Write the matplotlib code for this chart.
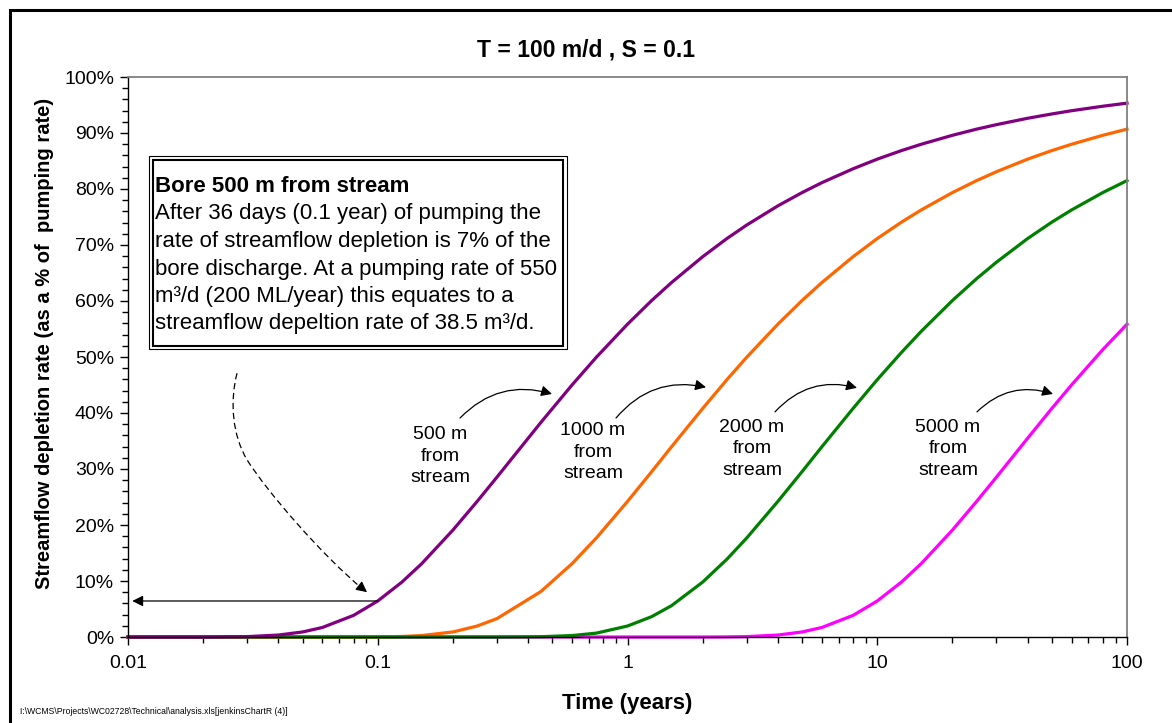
import numpy as np
import matplotlib
matplotlib.use("Agg")
import matplotlib.pyplot as plt
from matplotlib.patches import Rectangle, PathPatch
from matplotlib.path import Path
from matplotlib.ticker import FixedLocator, LogLocator, NullFormatter

plt.rcParams['font.family'] = ['Liberation Sans', 'DejaVu Sans']

# time (years)
time_years = [0.01, 0.02, 0.03, 0.04, 0.05, 0.06, 0.08, 0.1, 0.125, 0.15, 0.2, 0.25,
              0.3, 0.45, 0.6, 0.75, 1, 1.25, 1.5, 2, 2.5, 3, 4, 5, 6, 8, 10, 12.5,
              15, 20, 25, 30, 40, 50, 60, 80, 100]

# streamflow depletion rate (% of pumping rate)
dep_500 = [0.0, 0.0, 0.07, 0.35, 0.90, 1.70, 3.86, 6.43, 9.81, 13.10, 19.10, 24.21,
           28.54, 38.32, 45.02, 49.95, 55.86, 60.09, 63.29, 67.91, 71.15, 73.56, 76.99, 79.36,
           81.13, 83.61, 85.33, 86.86, 87.99, 89.59, 90.69, 91.49, 92.63, 93.40, 93.98, 94.78, 95.33]
dep_1000 = [0.0, 0.0, 0.0, 0.0, 0.0, 0.0, 0.0, 0.02, 0.09, 0.26, 0.90, 1.96,
            3.28, 8.12, 13.10, 17.67, 24.21, 29.53, 33.96, 40.81, 45.95, 49.95, 55.86, 60.09,
            63.29, 67.91, 71.15, 74.08, 76.26, 79.36, 81.50, 83.08, 85.33, 86.86, 87.99, 89.59, 90.69]
dep_2000 = [0.0, 0.0, 0.0, 0.0, 0.0, 0.0, 0.0, 0.0, 0.0, 0.0, 0.0, 0.0,
            0.0, 0.05, 0.26, 0.69, 1.96, 3.64, 5.59, 9.81, 13.89, 17.67, 24.21, 29.53,
            33.96, 40.81, 45.95, 50.81, 54.58, 60.09, 63.99, 66.92, 71.15, 74.08, 76.26, 79.36, 81.50]
dep_5000 = [0.0, 0.0, 0.0, 0.0, 0.0, 0.0, 0.0, 0.0, 0.0, 0.0, 0.0, 0.0,
            0.0, 0.0, 0.0, 0.0, 0.0, 0.0, 0.0, 0.0, 0.02, 0.07, 0.35, 0.90,
            1.70, 3.86, 6.43, 9.81, 13.10, 19.10, 24.21, 28.54, 35.49, 40.81, 45.02, 51.32, 55.86]

series = [("5000 m", dep_5000, "#FF00FF"),
          ("1000 m", dep_1000, "#FF6600"),
          ("2000 m", dep_2000, "#008000"),
          ("500 m", dep_500, "#800080")]

W, H = 1172, 723


def fx(px):
    return px / W


def fy(py):
    return 1 - py / H


fig = plt.figure(figsize=(W / 100, H / 100), dpi=100)
ax = fig.add_axes([fx(128), fy(637), fx(1127) - fx(128), fy(77) - fy(637)])

for name, vals, col in series:
    ax.plot(time_years, vals, color=col, lw=2.3, clip_on=False, solid_joinstyle='round')

ax.set_xscale('log')
ax.set_xlim(0.01, 100)
ax.set_ylim(0, 100)

ax.set_yticks(range(0, 101, 10))
ax.set_yticklabels([f"{v}%" for v in range(0, 101, 10)])
ax.yaxis.set_minor_locator(FixedLocator(range(0, 101, 2)))
ax.set_xticks([0.01, 0.1, 1, 10, 100])
ax.set_xticklabels(["0.01", "0.1", "1", "10", "100"])
ax.xaxis.set_minor_locator(LogLocator(base=10, subs=range(2, 10)))
ax.xaxis.set_minor_formatter(NullFormatter())

ax.tick_params(which='major', direction='out', length=6, width=1, labelsize=14, pad=4)
ax.tick_params(which='minor', direction='out', length=4, width=1)
ax.tick_params(axis='x', which='major', pad=7)

for s in ['left', 'bottom']:
    ax.spines[s].set_color('black')
    ax.spines[s].set_linewidth(1)
for s in ['top', 'right']:
    ax.spines[s].set_color('#808080')
    ax.spines[s].set_linewidth(1.3)

fig.text(fx(627.5), fy(703), "Time (years)", ha='center', va='center',
         fontsize=16, fontweight='bold')
fig.text(fx(45), fy(343), "Streamflow depletion rate (as a % of  pumping rate)",
         rotation=90, ha='center', va='center', fontsize=14.5, fontweight='bold')

fig.text(0.5, fy(50), "T = 100 m/d , S = 0.1", ha='center', va='center',
         fontsize=16.5, fontweight='bold')

fig.text(fx(20), fy(712), r"I:\WCMS\Projects\WC02728\Technical\analysis.xls[jenkinsChartR (4)]",
         ha='left', va='center', fontsize=6.2)

# outer frame
fig.add_artist(Rectangle((fx(10), -0.2), 1.2, fy(10) + 0.2, transform=fig.transFigure,
                         fill=False, edgecolor='black', lw=2.2))

# annotation box with double border
fig.add_artist(Rectangle((fx(149), fy(349)), fx(567) - fx(149), fy(156) - fy(349),
                         transform=fig.transFigure, fill=True, facecolor='white',
                         edgecolor='black', lw=0.8, zorder=5))
fig.add_artist(Rectangle((fx(153), fy(346)), fx(563) - fx(153), fy(160) - fy(346),
                         transform=fig.transFigure, fill=False,
                         edgecolor='black', lw=1.5, zorder=5))
box_lines = ["Bore 500 m from stream",
             "After 36 days (0.1 year) of pumping the",
             "rate of streamflow depletion is 7% of the",
             "bore discharge. At a pumping rate of 550",
             "m³/d (200 ML/year) this equates to a",
             "streamflow depeltion rate of 38.5 m³/d."]
for i, line in enumerate(box_lines):
    fig.text(fx(155), fy(192 + 27.5 * i), line, ha='left', va='baseline', fontsize=16,
             fontweight='bold' if i == 0 else 'normal', zorder=6)

# curve labels with curved arrows
labels = [("500 m\nfrom\nstream", 0.1775, 32.3, 0.2135, 39.1, 0.4985, 43.4),
          ("1000 m\nfrom\nstream", 0.7276, 33.0, 0.8995, 39.1, 2.0625, 44.6),
          ("2000 m\nfrom\nstream", 3.151, 33.6, 3.896, 40.2, 8.297, 44.5),
          ("5000 m\nfrom\nstream", 19.20, 33.6, 25.08, 40.2, 50.55, 43.4)]
for txt, lx, ly, ax0, ay0, ax1, ay1 in labels:
    ax.text(lx, ly, txt, ha='center', va='center', fontsize=14, linespacing=1.36)
    ax.annotate("", xy=(ax1, ay1), xytext=(ax0, ay0),
                arrowprops=dict(arrowstyle='-|>', color='black', lw=0.9,
                                mutation_scale=16,
                                connectionstyle='arc3,rad=-0.3', shrinkA=0, shrinkB=0))

# horizontal arrow at 0.1 year
ax.annotate("", xy=(0.0104, 6.43), xytext=(0.1, 6.43),
            arrowprops=dict(arrowstyle='-|>', color='black', lw=0.9, mutation_scale=16,
                            shrinkA=0, shrinkB=0), annotation_clip=False)

# dashed leader from box to the curve
verts = [(0.02733, 47.1), (0.0255, 42.0), (0.0262, 36.0), (0.0300, 31.6),
         (0.0360, 26.0), (0.0600, 14.5), (0.0880, 8.4)]
codes = [Path.MOVETO, Path.CURVE4, Path.CURVE4, Path.CURVE4,
         Path.CURVE4, Path.CURVE4, Path.CURVE4]
ax.add_patch(PathPatch(Path(verts, codes), fill=False, edgecolor='black', lw=0.9,
                       linestyle=(0, (5, 3)), transform=ax.transData))
ax.annotate("", xy=(0.0906, 8.0), xytext=(0.0860, 8.8),
            arrowprops=dict(arrowstyle='-|>', color='black', lw=0.9, mutation_scale=16,
                            shrinkA=0, shrinkB=0))

fig.savefig("out.png", dpi=100)
